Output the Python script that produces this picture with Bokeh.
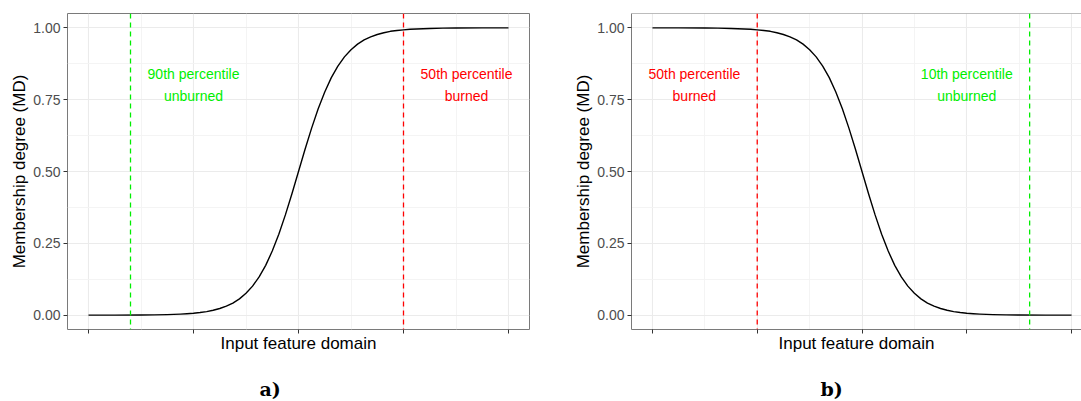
from bokeh.plotting import figure
from bokeh.layouts import row
from bokeh.models import FixedTicker, Span, Label, Range1d, ColumnDataSource, NumeralTickFormatter, Title
from bokeh.embed import file_html
from bokeh.resources import INLINE

# ---- data ----
x_vals = [0, 0.25, 0.5, 0.625, 0.75, 0.875, 0.9375, 1.0, 1.0625, 1.125, 1.1875, 1.25, 1.3125, 1.375, 1.4375,
          1.5, 1.5625, 1.625, 1.6875, 1.75, 1.8125, 1.875, 1.9375, 2.0,
          2.0625, 2.125, 2.1875, 2.25, 2.3125, 2.375, 2.4375, 2.5, 2.5625, 2.625, 2.6875, 2.75, 2.8125,
          2.875, 2.9375, 3.0, 3.0625, 3.125, 3.25, 3.375, 3.5, 3.75, 4.0]
md_a = [0.0000, 0.0002, 0.0006, 0.0010, 0.0019, 0.0036, 0.0049, 0.0067, 0.0091, 0.0124, 0.0169, 0.023, 0.0311, 0.042, 0.0567,
        0.076, 0.1009, 0.133, 0.1733, 0.223, 0.2814, 0.349, 0.4225, 0.5,
        0.5775, 0.651, 0.7186, 0.777, 0.8267, 0.867, 0.8991, 0.924, 0.9433, 0.958, 0.9689, 0.977, 0.9831,
        0.988, 0.9909, 0.993, 0.9951, 0.996, 0.998, 0.999, 0.9995, 0.9998, 1.0]
md_b = [1.0, 0.9998, 0.9995, 0.999, 0.998, 0.996, 0.9951, 0.993, 0.9909, 0.988, 0.9831, 0.977, 0.9689, 0.958, 0.9433,
        0.924, 0.8991, 0.867, 0.8267, 0.777, 0.7186, 0.651, 0.5775, 0.5,
        0.4225, 0.349, 0.2814, 0.223, 0.1733, 0.133, 0.1009, 0.076, 0.0567, 0.042, 0.0311, 0.023, 0.0169,
        0.0124, 0.0091, 0.0067, 0.0049, 0.0036, 0.0019, 0.0010, 0.0006, 0.0002, 0.0000]

x_ticks = [0, 1, 2, 3, 4]
x_minor = [0.5, 1.5, 2.5, 3.5]
y_ticks = [0, 0.25, 0.5, 0.75, 1.0]
y_minor = [0.125, 0.375, 0.625, 0.875]

# thresholds (vertical dashed lines) and annotation labels
GREEN = "#00EE00"
RED = "#FF0000"
vline_a = [(0.4, GREEN), (3.0, RED)]
vline_b = [(1.0, RED), (3.6, GREEN)]
notes_a = [(1.0, 0.8, "90th percentile\nunburned", GREEN),
           (3.6, 0.8, "50th percentile\nburned", RED)]
notes_b = [(0.4, 0.8, "50th percentile\nburned", RED),
           (3.0, 0.8, "10th percentile\nunburned", GREEN)]

FONT = "Liberation Sans"
BORDER = "#7a7a7a"


def make_panel(xs, ys, vlines, notes, tag, x_end, frame_w, left, right, tag_offset, keep_outline):
    p = figure(frame_width=frame_w, frame_height=316,
               min_border_left=left, min_border_right=right,
               min_border_top=13, min_border_bottom=72,
               x_range=Range1d(-0.2, x_end), y_range=Range1d(-0.05, 1.05),
               output_backend="svg", toolbar_location=None,
               background_fill_color="white", border_fill_color="white")
    if keep_outline:
        p.outline_line_color = BORDER
        p.outline_line_width = 1
    else:
        p.outline_line_color = None
        p.add_layout(Span(location=1.05, dimension="width", line_color=BORDER, line_width=1))

    # x axis: tick marks only (drawn as minor ticks, so no tick labels exist)
    p.xaxis.ticker = FixedTicker(ticks=[], minor_ticks=x_ticks)
    p.xgrid.ticker = FixedTicker(ticks=x_ticks, minor_ticks=x_minor)
    p.yaxis.ticker = FixedTicker(ticks=y_ticks, minor_ticks=y_minor)
    p.yaxis.formatter = NumeralTickFormatter(format="0.00")
    for ax in (p.xaxis[0], p.yaxis[0]):
        ax.major_tick_in = 0
        ax.major_tick_out = 4
        ax.minor_tick_in = 0
        ax.minor_tick_out = 0
        ax.major_tick_line_color = "#333333"
        ax.axis_line_color = None if keep_outline else BORDER
        ax.axis_label_text_font = FONT
        ax.axis_label_text_font_size = "17px"
        ax.axis_label_text_font_style = "normal"
        ax.axis_label_text_color = "black"
        ax.major_label_text_font = FONT
        ax.major_label_text_color = "#4D4D4D"
    p.xaxis.minor_tick_out = 4
    p.xaxis.minor_tick_line_color = "#333333"
    p.xaxis.major_label_standoff = 0
    p.xaxis.axis_label_standoff = 0
    p.xaxis.axis_label = "Input feature domain"
    p.yaxis.major_label_text_font_size = "14px"
    p.yaxis.major_label_standoff = 3
    p.yaxis.axis_label_standoff = 1
    p.yaxis.axis_label = "Membership degree (MD)"

    # grid
    for g in (p.xgrid[0], p.ygrid[0]):
        g.grid_line_color = "#EBEBEB"
        g.grid_line_width = 1.1
        g.minor_grid_line_color = "#F3F3F3"
        g.minor_grid_line_width = 0.9

    src = ColumnDataSource(dict(x=xs, y=ys))
    p.line("x", "y", source=src, line_color="black", line_width=1.4, line_join="round")

    for loc, col in vlines:
        p.add_layout(Span(location=loc, dimension="height", line_color=col,
                          line_width=1.3, line_dash="5 4"))
    for nx, ny, txt, col in notes:
        p.add_layout(Label(x=nx, y=ny, text=txt, text_color=col, text_font=FONT,
                           text_font_size="14px", text_align="center",
                           text_baseline="middle", text_line_height=1.36))
    p.add_layout(Title(text=tag, align="left", offset=tag_offset, standoff=40,
                       text_font="DejaVu Serif", text_font_style="bold",
                       text_font_size="19px", text_color="black"), "below")
    return p


pa = make_panel(x_vals, md_a, vline_a, notes_a, "a)", 4.2, 462, 67, 11, 192, True)
pb = make_panel(x_vals, md_b, vline_b, notes_b, "b)", 4.095, 450, 91, 0, 189, False)

layout = row(pa, pb, spacing=0)
open("out.html", "w").write(file_html(layout, INLINE))
